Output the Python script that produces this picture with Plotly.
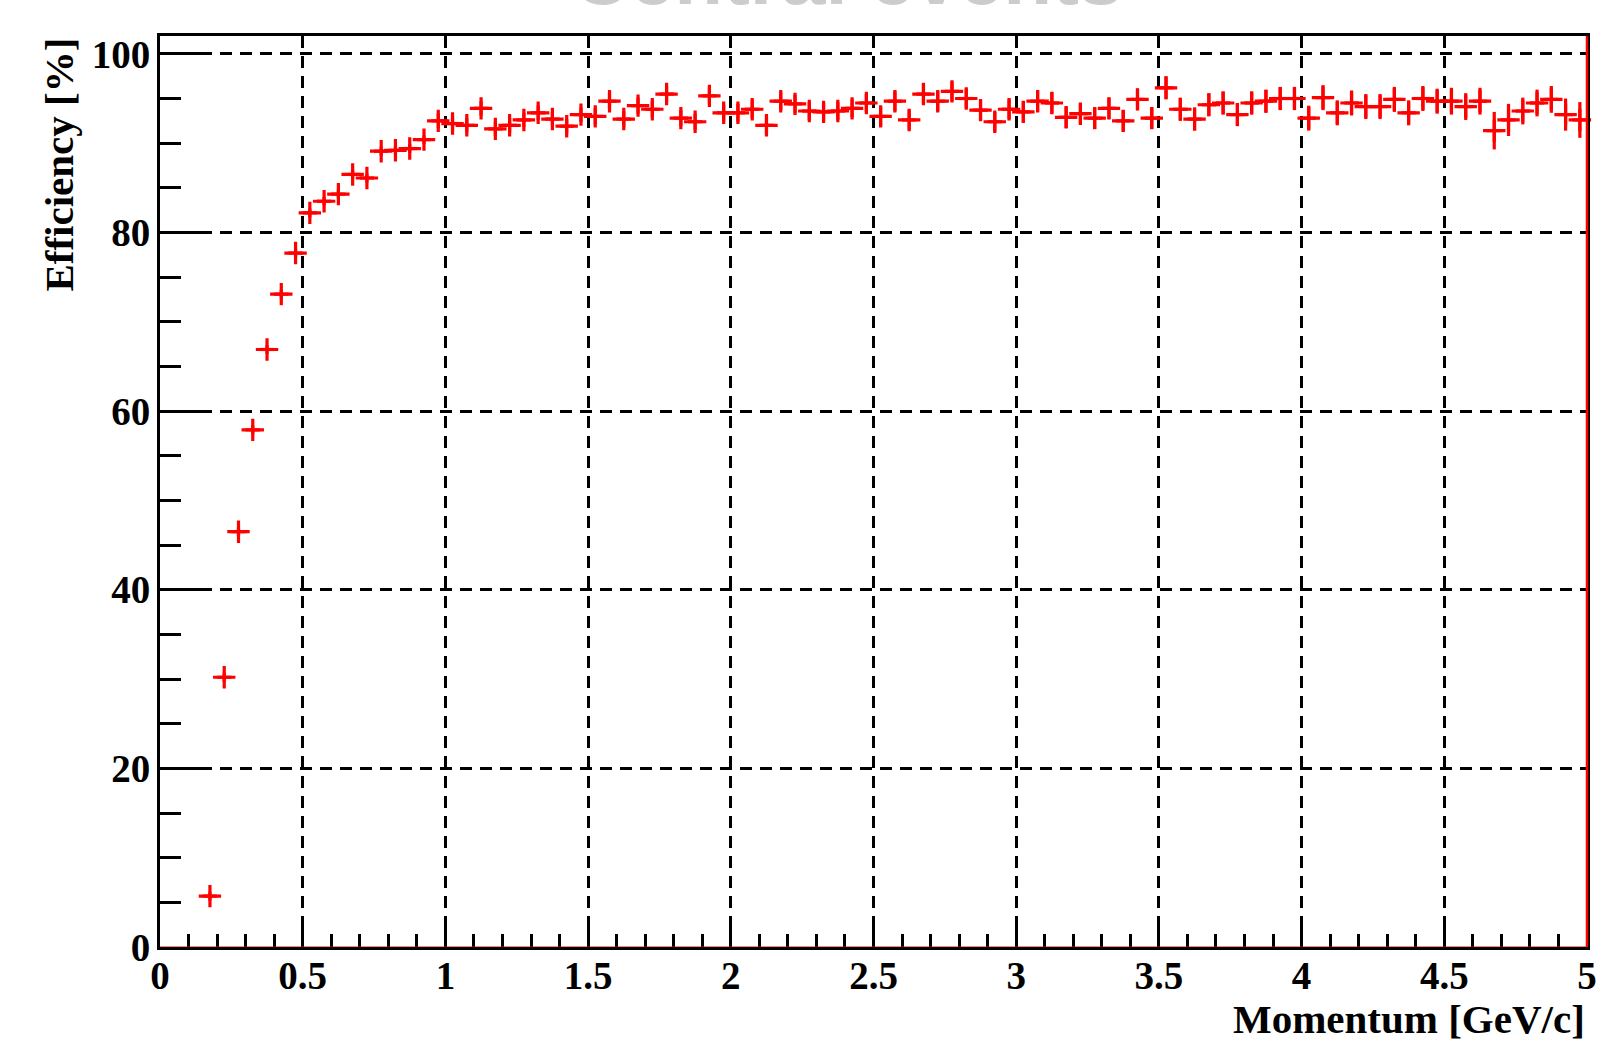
import plotly.graph_objects as go

momentum = [0.175, 0.225, 0.275, 0.325, 0.375, 0.425, 0.475, 0.525, 0.575, 0.625,
            0.675, 0.725, 0.775, 0.825, 0.875, 0.925, 0.975, 1.025, 1.075, 1.125,
            1.175, 1.225, 1.275, 1.325, 1.375, 1.425, 1.475, 1.525, 1.575, 1.625,
            1.675, 1.725, 1.775, 1.825, 1.875, 1.925, 1.975, 2.025, 2.075, 2.125,
            2.175, 2.225, 2.275, 2.325, 2.375, 2.425, 2.475, 2.525, 2.575, 2.625,
            2.675, 2.725, 2.775, 2.825, 2.875, 2.925, 2.975, 3.025, 3.075, 3.125,
            3.175, 3.225, 3.275, 3.325, 3.375, 3.425, 3.475, 3.525, 3.575, 3.625,
            3.675, 3.725, 3.775, 3.825, 3.875, 3.925, 3.975, 4.025, 4.075, 4.125,
            4.175, 4.225, 4.275, 4.325, 4.375, 4.425, 4.475, 4.525, 4.575, 4.625,
            4.675, 4.725, 4.775, 4.825, 4.875, 4.925, 4.975]

efficiency = [5.7, 30.2, 46.5, 57.9, 66.9, 73.1, 77.7, 82.2, 83.5, 84.3,
              86.5, 86.1, 89.1, 89.2, 89.4, 90.4, 92.5, 92.2, 92.0, 93.9,
              91.6, 92.0, 92.6, 93.4, 92.7, 91.9, 93.2, 93.0, 94.7, 92.7,
              94.2, 93.8, 95.5, 92.8, 92.4, 95.3, 93.4, 93.4, 93.8, 92.0,
              94.7, 94.4, 93.6, 93.5, 93.6, 93.9, 94.5, 93.0, 94.7, 92.6,
              95.5, 94.7, 95.8, 95.0, 93.7, 92.4, 93.8, 93.5, 94.7, 94.5,
              92.9, 93.3, 92.8, 93.9, 92.5, 94.9, 92.8, 96.2, 93.8, 92.7,
              94.3, 94.5, 93.2, 94.5, 94.7, 95.0, 95.0, 92.8, 95.1, 93.4,
              94.5, 94.1, 94.1, 94.9, 93.4, 95.0, 94.7, 94.7, 94.1, 94.7,
              91.4, 92.6, 93.6, 94.5, 94.9, 93.2, 92.6]

eff_err = [0.5, 0.5, 0.5, 0.5, 0.5, 0.5, 0.5, 0.5, 0.5, 0.5,
           0.5, 0.5, 0.5, 0.5, 0.5, 0.5, 0.8, 0.8, 0.8, 0.8,
           0.8, 0.8, 0.8, 0.8, 0.8, 0.8, 0.8, 0.9, 0.9, 0.9,
           0.9, 0.9, 0.9, 0.9, 0.9, 0.9, 0.9, 1.0, 1.0, 1.0,
           1.0, 1.0, 1.0, 1.0, 1.0, 1.0, 1.0, 1.1, 1.1, 1.1,
           1.1, 1.1, 1.1, 1.1, 1.1, 1.1, 1.1, 1.2, 1.2, 1.2,
           1.2, 1.2, 1.2, 1.2, 1.2, 1.2, 1.2, 1.3, 1.3, 1.3,
           1.3, 1.3, 1.3, 1.3, 1.3, 1.3, 1.3, 1.4, 1.4, 1.4,
           1.4, 1.4, 1.4, 1.4, 1.4, 1.4, 1.4, 1.5, 1.5, 1.5,
           2.1, 1.8, 1.5, 1.5, 1.5, 1.8, 2.0]

bin_half_width = [0.025] * len(momentum)

x_tickvals = [0, 0.5, 1, 1.5, 2, 2.5, 3, 3.5, 4, 4.5, 5]
x_ticktext = ["0", "0.5", "1", "1.5", "2", "2.5", "3", "3.5", "4", "4.5", "5"]
y_tickvals = [0, 20, 40, 60, 80, 100]
y_ticktext = ["0", "20", "40", "60", "80", "100"]

RED = "#ff0000"
SERIF = "Liberation Serif"

fig = go.Figure()
fig.add_trace(go.Scatter(
    x=momentum, y=efficiency, mode="markers",
    marker=dict(symbol="cross-thin", size=16, color=RED,
                line=dict(width=3.2, color=RED)),
    error_x=dict(type="data", array=bin_half_width, color=RED, thickness=3.2, width=0),
    error_y=dict(type="data", array=eff_err, color=RED, thickness=3.2, width=0),
    showlegend=False, cliponaxis=False,
))

fig.update_layout(
    width=1602, height=1043,
    margin=dict(l=160, r=15, t=36, b=96),
    paper_bgcolor="white", plot_bgcolor="white",
    showlegend=False,
    xaxis=dict(
        range=[0, 5], tickvals=x_tickvals, ticktext=x_ticktext,
        ticks="inside", ticklen=27, tickwidth=3, tickcolor="black",
        minor=dict(ticks="inside", ticklen=13, tickwidth=3, tickcolor="black", dtick=0.1, tick0=0, showgrid=False),
        showline=True, linecolor="black", linewidth=3, mirror=True,
        showgrid=True, gridcolor="black", gridwidth=2.5, griddash="12px,8px",
        zeroline=False, automargin=False,
        tickfont=dict(family=SERIF, size=39, color="black", weight="bold"),
        ticklabelstandoff=-8,
    ),
    yaxis=dict(
        range=[0, 102], tickvals=y_tickvals, ticktext=y_ticktext,
        ticks="inside", ticklen=43, tickwidth=3, tickcolor="black",
        minor=dict(ticks="inside", ticklen=21, tickwidth=3, tickcolor="black", dtick=5, tick0=0, showgrid=False),
        showline=True, linecolor="black", linewidth=3, mirror=True,
        showgrid=True, gridcolor="black", gridwidth=2.5, griddash="12px,8px",
        zeroline=False, automargin=False,
        tickfont=dict(family=SERIF, size=39, color="black", weight="bold"),
        ticklabelstandoff=-1,
    ),
    shapes=[
        dict(type="line", xref="paper", yref="paper", x0=1, x1=1, y0=0, y1=1,
             line=dict(color=RED, width=2.5), layer="above"),
        dict(type="line", xref="paper", yref="y", x0=0, x1=1, y0=0, y1=0,
             line=dict(color="rgba(255,0,0,0.5)", width=2), layer="above"),
    ],
    annotations=[
        dict(text="Momentum [GeV/c]", xref="paper", yref="paper", x=1.0, y=-0.079,
             xanchor="right", yanchor="middle", showarrow=False,
             font=dict(family=SERIF, size=41, color="black", weight="bold")),
        dict(text="Efficiency [%]", xref="paper", yref="paper", x=-0.0711, y=1.0,
             xanchor="center", yanchor="top", textangle=-90, showarrow=False,
             font=dict(family=SERIF, size=41, color="black", weight="bold")),
        dict(text="Central events", xref="paper", yref="paper", x=0.482, y=1.0143,
             xanchor="center", yanchor="bottom", showarrow=False,
             font=dict(family="Liberation Sans", size=80, color="#cccccc", weight="bold")),
    ],
)

fig.write_html("out.html")
